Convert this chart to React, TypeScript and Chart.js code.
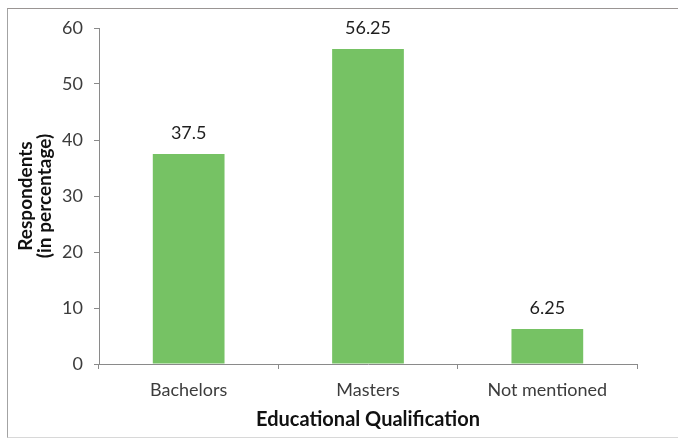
import React, { useEffect, useRef } from "react";
import { Chart, registerables } from "chart.js";

Chart.register(...registerables);

const categories: string[] = ["Bachelors", "Masters", "Not mentioned"];
const respondentsPct: number[] = [37.5, 56.25, 6.25];
const valueLabels: string[] = ["37.5", "56.25", "6.25"];
const yTitleLines: string[] = ["Respondents", "(in percentage)"];
const xTitle = "Educational Qualification";

const FONT = "Lato, 'Open Sans', sans-serif";
const AXIS_COLOR = "#8a8a8a";
const BAR_COLOR = "#76c264";

const dataLabelPlugin = {
  id: "dataLabelPlugin",
  afterDatasetsDraw(chart: any) {
    const { ctx } = chart;
    const meta = chart.getDatasetMeta(0);
    ctx.save();
    ctx.font = `18px ${FONT}`;
    ctx.fillStyle = "#1e1e1e";
    ctx.textAlign = "center";
    ctx.textBaseline = "middle";
    meta.data.forEach((bar: any, i: number) => {
      ctx.fillText(valueLabels[i], bar.x, bar.y - 21);
    });
    ctx.restore();
  },
};

export default function App() {
  const canvasRef = useRef<HTMLCanvasElement | null>(null);

  useEffect(() => {
    if (!canvasRef.current) return;
    const chart = new Chart(canvasRef.current, {
      type: "bar",
      data: {
        labels: categories,
        datasets: [
          {
            data: respondentsPct,
            backgroundColor: BAR_COLOR,
            borderWidth: 0,
            barPercentage: 0.4,
            categoryPercentage: 1,
          },
        ],
      },
      options: {
        animation: false,
        responsive: false,
        devicePixelRatio: 1,
        layout: { padding: { left: 0, top: 28, right: 41, bottom: 0 } },
        plugins: {
          legend: { display: false },
          tooltip: { enabled: false },
        },
        scales: {
          x: {
            offset: true,
            grid: {
              offset: true,
              drawOnChartArea: false,
              drawTicks: true,
              tickLength: 5,
              color: AXIS_COLOR,
            },
            border: { color: AXIS_COLOR, width: 1 },
            ticks: {
              color: "#3c3c3c",
              font: { family: FONT, size: 18 },
              padding: 10,
              maxRotation: 0,
            },
            title: {
              display: true,
              text: xTitle,
              color: "#111111",
              font: { family: FONT, size: 20, weight: "bold" },
              padding: { top: 0, bottom: 10 },
            },
            afterFit(scale: any) {
              scale.height = 78;
            },
          },
          y: {
            min: 0,
            max: 60,
            grid: {
              drawOnChartArea: false,
              drawTicks: true,
              tickLength: 5,
              color: AXIS_COLOR,
            },
            border: { color: AXIS_COLOR, width: 1 },
            ticks: {
              stepSize: 10,
              color: "#3c3c3c",
              font: { family: FONT, size: 18 },
              padding: 11,
            },
            title: {
              display: true,
              text: yTitleLines,
              color: "#111111",
              font: { family: FONT, size: 19, weight: "bold", lineHeight: "19px" },
              padding: { top: 16, bottom: 0 },
            },
            afterFit(scale: any) {
              scale.width = 99;
            },
          },
        },
      },
      plugins: [dataLabelPlugin],
    });
    return () => chart.destroy();
  }, []);

  return (
    <div
      style={{
        position: "fixed",
        left: 0,
        top: 0,
        width: 678,
        height: 442,
        background: "#ffffff",
        overflow: "hidden",
      }}
    >
      <div
        style={{
          position: "absolute",
          left: 7,
          top: 8,
          width: 700,
          height: 428,
          borderTop: "1px solid #9a9593",
          borderLeft: "1px solid #a3a3a3",
          borderBottom: "1px solid #d8d8d8",
        }}
      />
      <canvas
        ref={canvasRef}
        width={678}
        height={442}
        style={{ position: "absolute", left: 0, top: 0 }}
      />
    </div>
  );
}
